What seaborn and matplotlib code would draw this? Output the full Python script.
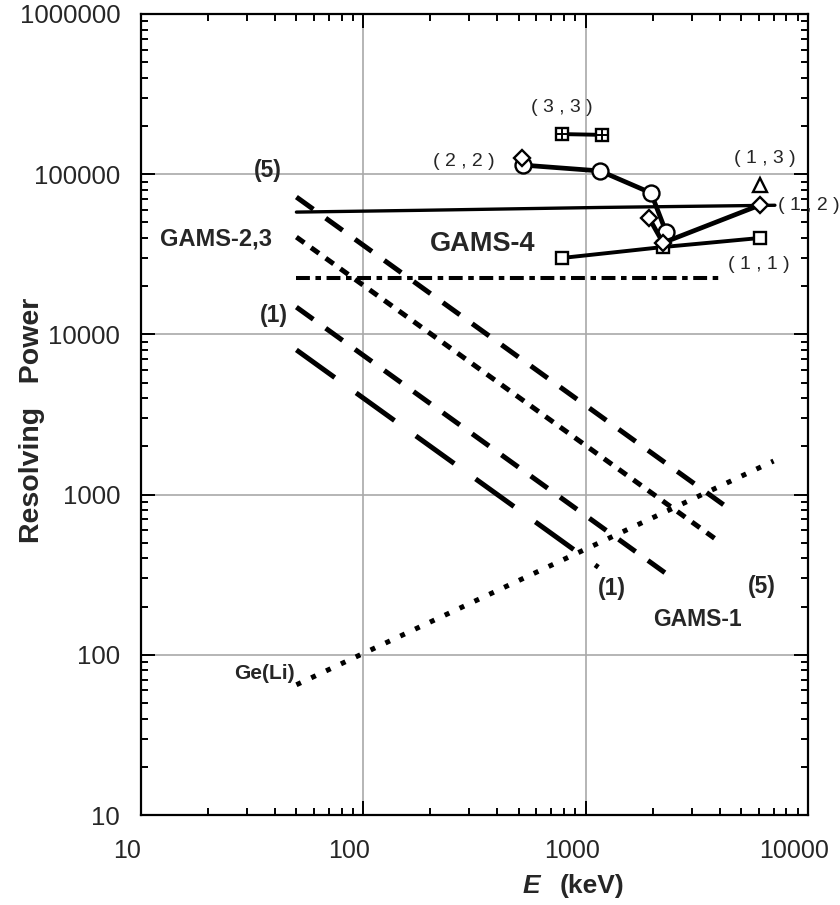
import numpy as np
import pandas as pd
import seaborn as sns
import matplotlib.pyplot as plt
import matplotlib.transforms as mtransforms

# ---- data (E in keV, resolving power) ----
xticks = [10, 100, 1000, 10000]
yticks = [10, 100, 1000, 10000, 100000, 1000000]

gams4_E = [50, 180, 1160, 7100]
gams4_R = [58000, 59500, 62000, 64000]

dashdot_E = [50, 4150]
dashdot_R = [22500, 22500]

line5_E = [50, 4240]          # (5) dashes
line5_R = [72000, 850]
dotted23_E = [50, 4030]       # short dashes
dotted23_R = [40500, 503]
line1_E = [50, 2275]          # (1) dashes
line1_R = [14800, 325]
longdash_E = [50, 1140]       # long dashes
longdash_R = [8000, 352]

geli_E = [50, 7000]
geli_R = [65, 1620]

p33_E = [783, 1186]
p33_R = [178000, 176000]
p22_E = [522, 1161, 1967, 2300]
p22_R = [114000, 104800, 76400, 43500]
p12_E = [1928, 2228, 6100]
p12_R = [53300, 37300, 64300]
p12_lone_E = [518]
p12_lone_R = [126000]
p11_E = [783, 2228, 6100]
p11_R = [30000, 35100, 40000]
p13_E = [6100]
p13_R = [85700]

sns.set_style('ticks')
plt.rcParams['font.family'] = ['Liberation Sans', 'DejaVu Sans']
plt.rcParams['lines.scale_dashes'] = False

fig = plt.figure(figsize=(8.4, 9.05), dpi=100)
ax = fig.add_axes([141/840, 90/905, 667/840, 801/905])
ax.set_xscale('log')
ax.set_yscale('log')
ax.set_xlim(10, 10000)
ax.set_ylim(10, 1000000)

def draw(E, R, **kw):
    sns.lineplot(x=E, y=R, ax=ax, color='k', estimator=None, sort=False,
                 legend=False, **kw)

draw(gams4_E, gams4_R, lw=2.4)
draw(dashdot_E, dashdot_R, lw=2.9, linestyle=(0, (10, 4, 4, 4)))
draw(line5_E, line5_R, lw=3.6, linestyle=(0, (15, 11)))
draw(dotted23_E, dotted23_R, lw=3.6, linestyle=(0, (7, 6)))
draw(line1_E, line1_R, lw=3.6, linestyle=(0, (15, 11)))
draw(longdash_E, longdash_R, lw=3.6, linestyle=(0, (34, 19)))
draw(geli_E, geli_R, lw=3.6, linestyle=(0, (3.6, 8.2)))

mk = dict(mec='k', mfc='white', mew=1.7)
draw(p11_E, p11_R, lw=2.8, marker='s', ms=9, **mk)
draw(p22_E, p22_R, lw=3.4, marker='o', ms=11.5, **mk)
draw(p12_E, p12_R, lw=3.4, marker='D', ms=8.5, **mk)
draw(p12_lone_E, p12_lone_R, lw=0, marker='D', ms=8.5, **mk)
draw(p13_E, p13_R, lw=0, marker='^', ms=10, **mk)
draw(p33_E, p33_R, lw=2.8, marker='s', ms=9, **mk)
draw(p33_E, p33_R, lw=0, marker='+', ms=9, mec='k', mew=1.4)

# ---- labels ----
bold = dict(fontweight='bold', ha='center', va='center')
ax.text(37.3, 106000, '(5)', fontsize=16.5, **bold)
ax.text(21.7, 39500, 'GAMS-2,3', fontsize=17, **bold)
ax.text(39.7, 13200, '(1)', fontsize=16.5, **bold)
ax.text(345, 36600, 'GAMS-4', fontsize=19.5, **bold)
ax.text(1315, 261, '(1)', fontsize=16.5, **bold)
ax.text(6210, 265, '(5)', fontsize=16.5, **bold)
ax.text(3170, 165, 'GAMS-1', fontsize=16.5, **bold)
ax.text(36, 76.9, 'Ge(Li)', fontsize=15, **bold)

reg = dict(fontsize=14, ha='center', va='center')
ax.text(783, 262000, '( 3 , 3 )', **reg)
ax.text(284, 120000, '( 2 , 2 )', **reg)
ax.text(6410, 126000, '( 1 , 3 )', **reg)
ax.text(7350, 63800, '( 1 , 2 )', fontsize=14, ha='left', va='center')
ax.text(6030, 27500, '( 1 , 1 )', **reg)

# ---- axes styling ----
ax.set_xticks(xticks)
ax.set_xticklabels([str(v) for v in xticks], fontsize=18)
ax.set_yticks(yticks)
ax.set_yticklabels([str(v) for v in yticks], fontsize=18.5)
ax.tick_params(which='both', direction='in', top=True, right=True, width=1.4, color='k')
ax.tick_params(which='major', length=10)
ax.tick_params(which='minor', length=5)
ax.tick_params(axis='y', which='major', pad=15)
ax.tick_params(axis='x', which='major', pad=17)
off = mtransforms.ScaledTranslation(-14/100, 0, fig.dpi_scale_trans)
for lab in ax.get_xticklabels():
    lab.set_transform(lab.get_transform() + off)
for s in ax.spines.values():
    s.set_linewidth(1.6)
    s.set_color('k')
ax.grid(which='major', color='#a9a9a9', lw=1.2)
ax.set_axisbelow(True)

ax.set_ylabel('Resolving   Power', fontweight='bold', fontsize=20.5)
ax.yaxis.set_label_coords(-0.144, 0.493)
ax.text(0.628, -0.0886, '(keV)', transform=ax.transAxes, fontweight='bold',
        fontsize=19, ha='left', va='center')
ax.text(0.585, -0.0886, 'E', transform=ax.transAxes, fontweight='bold',
        fontstyle='italic', fontsize=19, ha='center', va='center')

fig.savefig('out.png', dpi=100)
